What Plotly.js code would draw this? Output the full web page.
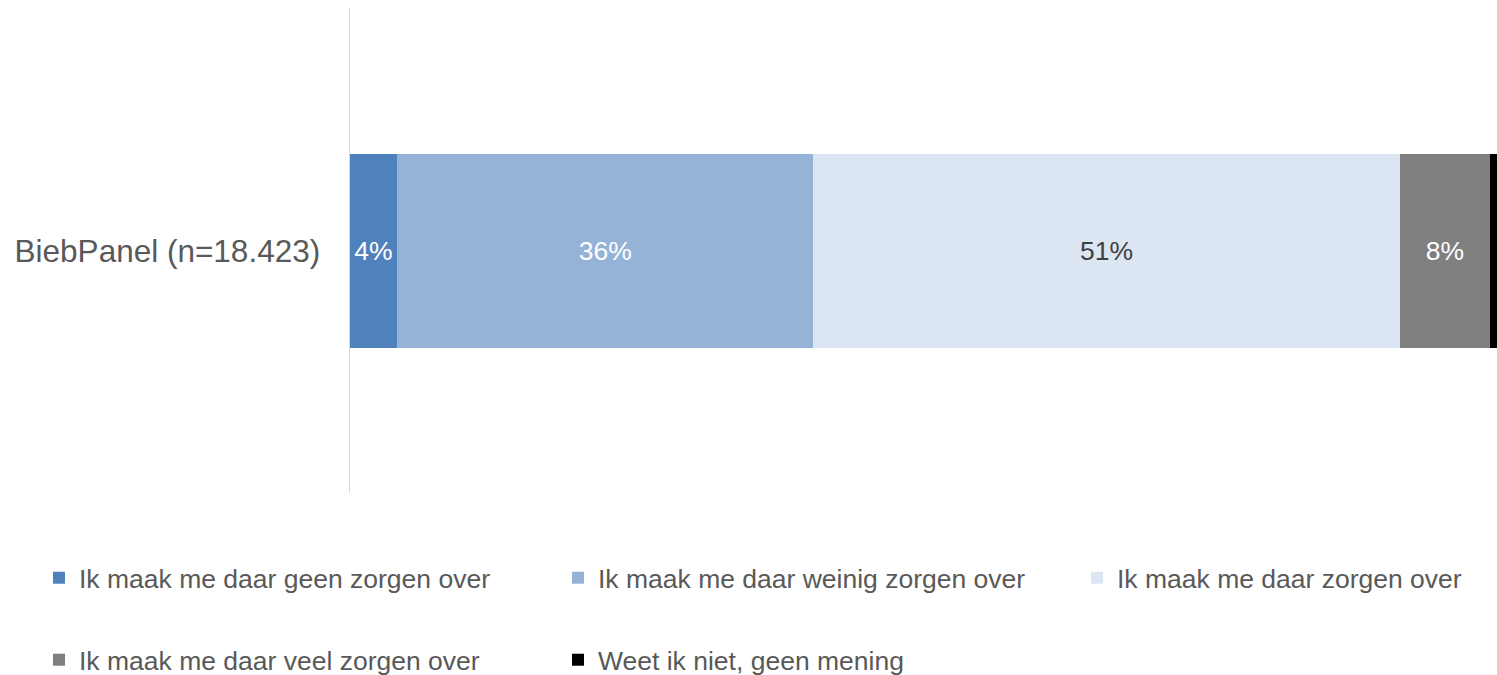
<!DOCTYPE html>
<html>
<head>
<meta charset="utf-8">
<script src="https://cdn.plot.ly/plotly-3.0.1.min.js"></script>
<style>html,body{margin:0;padding:0;background:#fff;}#chart{width:1497px;height:675px;}</style>
</head>
<body>
<div id="chart"></div>
<script>
const categories = ['BiebPanel (n=18.423)'];
const seriesNames = [
  'Ik maak me daar geen zorgen over',
  'Ik maak me daar weinig zorgen over',
  'Ik maak me daar zorgen over',
  'Ik maak me daar veel zorgen over',
  'Weet ik niet, geen mening'
];
const geen = [4.1];
const weinig = [36.3];
const zorgen = [51.1];
const veel = [7.9];
const weetNiet = [0.6];

const values = [geen, weinig, zorgen, veel, weetNiet];
const colors = ['#4F81BD', '#95B3D7', '#DCE6F2', '#7F7F7F', '#000000'];
const labelColors = ['#FFFFFF', '#FFFFFF', '#404040', '#FFFFFF', '#FFFFFF'];
const showLabel = [true, true, true, true, false];
const legendIds = ['legend', 'legend', 'legend', 'legend2', 'legend2'];
const legendWidths = [474, 474, 350, 474, 350];

const FONT = '"Liberation Sans", Arial, sans-serif';

const traces = values.map((v, i) => ({
  type: 'bar',
  orientation: 'h',
  name: seriesNames[i],
  y: categories,
  x: v,
  marker: {color: colors[i], line: {width: 0}},
  texttemplate: showLabel[i] ? '%{x:.0f}%' : '',
  textposition: showLabel[i] ? 'inside' : 'none',
  insidetextanchor: 'middle',
  constraintext: 'none',
  textfont: {family: FONT, size: 26.5, color: labelColors[i]},
  hoverinfo: 'skip',
  legend: legendIds[i],
  legendwidth: legendWidths[i]
}));

const W = 1497, H = 675;
const M = {l: 350, r: 0, t: 8, b: 182, autoexpand: false};
const plotW = W - M.l - M.r, plotH = H - M.t - M.b;
const px2x = px => (px - M.l) / plotW;
const py2y = py => (H - M.b - py) / plotH;

const legendCommon = {
  orientation: 'h',
  xref: 'paper', yref: 'paper',
  xanchor: 'left', yanchor: 'middle',
  entrywidthmode: 'pixels',
  traceorder: 'normal',
  font: {family: FONT, size: 26.5, color: '#595959'},
  bgcolor: 'rgba(0,0,0,0)', borderwidth: 0
};

const layout = {
  width: W, height: H,
  margin: M,
  paper_bgcolor: '#FFFFFF', plot_bgcolor: '#FFFFFF',
  barmode: 'stack',
  bargap: 0.6,
  font: {family: FONT, color: '#595959'},
  xaxis: {range: [0, 100], visible: false, fixedrange: true},
  yaxis: {
    showline: true, linecolor: '#D9D9D9', linewidth: 1.5,
    ticks: '', showgrid: false, zeroline: false,
    ticklabelstandoff: 22,
    tickfont: {family: FONT, size: 31.5, color: '#595959'}
  },
  legend: Object.assign({}, legendCommon, {x: px2x(39), y: py2y(578)}),
  legend2: Object.assign({}, legendCommon, {x: px2x(39), y: py2y(660)}),
  showlegend: true
};

Plotly.newPlot('chart', traces, layout, {displayModeBar: false, staticPlot: true});
</script>
</body>
</html>
